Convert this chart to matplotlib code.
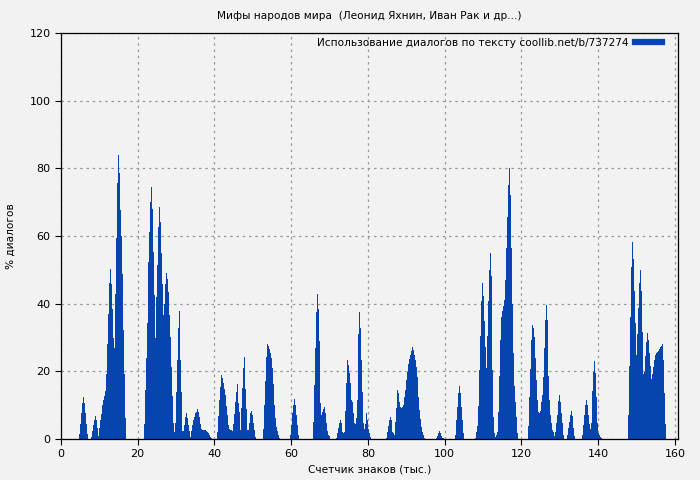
import matplotlib
matplotlib.use('Agg')
import matplotlib.pyplot as plt
from matplotlib.lines import Line2D
import numpy as np

# bar step, thousands of characters
step = 0.26

# start of each run of bars (thousands of characters)
seg_start = [4.69, 7.82, 21.63, 40.65, 52.64, 59.67, 65.67, 71.66,
             84.69, 97.72, 102.67, 107.88, 121.69, 131.86, 135.77, 147.75]

# % of dialogues per bar, one list per run
seg_vals = [
    [1.5, 4.4, 7.6, 10.6, 12.4, 10.6, 7.6, 4.3, 1.5],
    [0.5, 2.5, 4.1, 5.7, 6.9, 5.7, 3.4, 1.0, 3.4, 5.7, 7.4, 10, 11.6, 12.8,
     14.3, 19.1, 28, 37, 46, 50.2, 45.8, 38.4, 30, 27, 43, 59.3, 75.7, 84,
     78.6, 67.8, 60, 48.8, 32.2, 19.2, 6.1],
    [4.4, 14.5, 24, 34.4, 52.4, 61.3, 70, 74.6, 68, 55.4, 42.6, 29.8, 42,
     51.4, 62.8, 68.7, 64, 54.9, 45.7, 36.7, 40, 45.7, 49, 47.2, 43.5, 36.7,
     30.2, 21.4, 12.7, 4.8, 2, 4.6, 14, 23.3, 32.7, 37.8, 23.3, 14, 2.5, 2.5,
     4.1, 6.4, 7.6, 6.1, 4.1, 2.5, 0.7, 2.5, 4.1, 5.6, 6.6, 7.6, 8.1, 8.8,
     7.9, 6.6, 4.4, 2.9, 2.7, 2.7, 2.7, 2.6, 2.5, 2.2, 1.7, 1.2, 0.7, 0.3, 0.1],
    [2, 6.8, 11.5, 15.5, 18.9, 18.1, 16.7, 14.7, 13, 9.9, 7.1, 4.1, 2.9, 2.7,
     2.7, 2.5, 4.4, 7.4, 11, 13.8, 16.2, 10.5, 8.1, 2.7, 9.1, 15, 20.9, 24.1,
     14.8, 8.8, 2.7, 2.7, 4.6, 7.8, 8.4, 7.1, 4.8, 2.7, 0.7],
    [3, 10, 17.2, 24.3, 28.1, 27.6, 26.5, 25.3, 23.8, 20.9, 16.2, 10, 6.3,
     3.6, 2.5, 1.2, 0.4],
    [1.2, 4.1, 7.6, 10, 11.8, 10, 7.1, 4.1, 1.2],
    [4.9, 16, 26.8, 37.4, 43, 38.4, 29, 10.5, 7.1, 8.1, 8.8, 9.6, 7.6, 4.6,
     2.5, 1.2, 0.9],
    [0.4, 1.7, 3.2, 4.6, 5.6, 4.6, 2.2, 1.7, 2.2, 8.4, 16.5, 23.3, 21.9, 19.4,
     16.7, 11.5, 11, 7.6, 4.6, 4.3, 6.1, 11.5, 31, 37.5, 32.9, 23.3, 13.8,
     4.6, 2.9, 4.4, 7.6, 5.6, 2.9, 1.7, 0.7],
    [0.4, 2.2, 3.8, 5.6, 6.6, 5.6, 2.2, 1.7, 1.2, 4.9, 9.1, 14.5, 13.5, 10.8,
     9.6, 9.3, 9.6, 10, 12.5, 14.6, 17.4, 19.9, 22.2, 23.7, 24.8, 26.1, 27.1,
     26.3, 24.8, 23.3, 21.4, 18.2, 12.5, 8.6, 5.8, 3.6, 2.2, 1.2, 0.4],
    [0.4, 1, 1.7, 2.4, 1.7, 1, 0.4, 0.2],
    [1.2, 5.6, 9.6, 13.7, 15.7, 13.7, 9.6, 5.6, 1.7],
    [0.4, 2, 3.9, 9.9, 20.4, 30.4, 40.8, 46, 42.4, 34.9, 27.1, 20.9, 30.5,
     40.8, 50, 54.9, 48.1, 20.4, 6.6, 1.7, 0.5, 1.2, 2.2, 8.1, 18.6, 29.4,
     36.2, 37.9, 39.4, 41.1, 47, 56.4, 65.5, 75, 80, 72.1, 56.6, 39.8, 25.3,
     15.7, 11, 6.6, 1.9],
    [3.9, 12.5, 20.7, 29.3, 33.7, 32.7, 30.2, 23.8, 17.4, 11.5, 8.1, 7.6, 8.4,
     11, 13, 18.4, 26.8, 35.2, 39.6, 35.2, 18.6, 11.5, 7.1, 4.6, 2.7, 2, 1,
     2, 4.6, 7.1, 11.2, 13, 11, 7.6, 4.6, 1.2],
    [1.2, 3.2, 5.1, 7.1, 8.4, 6.8, 3.2, 0.9],
    [1.2, 4.1, 7.1, 10, 11.5, 10, 7.1, 4.3, 2.9, 4.6, 14.3, 19.9, 23.2, 19.4,
     12.5, 4.8, 1.9, 1.2, 0.7, 0.2],
    [7, 21.6, 36.2, 50.8, 58.2, 53.1, 43.7, 34.2, 24.7, 30.9, 38.6, 46, 50,
     43.7, 31.6, 19.1, 19.8, 24.5, 28.8, 31.2, 29.2, 25.3, 21.6, 17.6, 19.1,
     21.3, 23.5, 24.7, 25.3, 25.7, 26, 26.5, 27.1, 27.5, 28, 23.3, 13.7, 4.3],
]

title = 'Мифы народов мира  (Леонид Яхнин, Иван Рак и др...)'
legend_label = 'Использование диалогов по тексту coollib.net/b/737274'

bar_color = '#0645ad'
bg = '#f2f2f2'

x = []
y = []
for s, vals in zip(seg_start, seg_vals):
    for i, v in enumerate(vals):
        x.append(s + i * step)
        y.append(v)

fig = plt.figure(figsize=(7, 4.8), dpi=100, facecolor=bg)
ax = fig.add_axes([0.087, 0.0854, 0.881, 0.8458])
ax.set_facecolor(bg)

ax.bar(x, y, width=step * 1.05, align='edge', color=bar_color,
       linewidth=0, antialiased=False)

ax.set_xlim(0, 160.7)
ax.set_ylim(0, 120)
ax.set_xticks(np.arange(0, 161, 20))
ax.set_yticks(np.arange(0, 121, 20))
ax.set_axisbelow(True)
ax.grid(True, linestyle=(0, (2, 3)), color='#999999', linewidth=0.9)
ax.tick_params(labelsize=8, length=4, width=0.8)
for sp in ax.spines.values():
    sp.set_linewidth(0.9)

ax.set_title(title, fontsize=7.6, pad=10)
ax.set_xlabel('Счетчик знаков (тыс.)', fontsize=7.6, labelpad=4)
ax.set_ylabel('% диалогов', fontsize=7.6, labelpad=10)

handle = Line2D([], [], color=bar_color, linewidth=4.5)
ax.legend([handle], [legend_label], loc='upper right', frameon=False,
          fontsize=7.6, markerfirst=False, handlelength=2.6,
          bbox_to_anchor=(0.988, 1.008), borderaxespad=0.35,
          handletextpad=0.6)

fig.savefig('out.png', dpi=100, facecolor=bg)
